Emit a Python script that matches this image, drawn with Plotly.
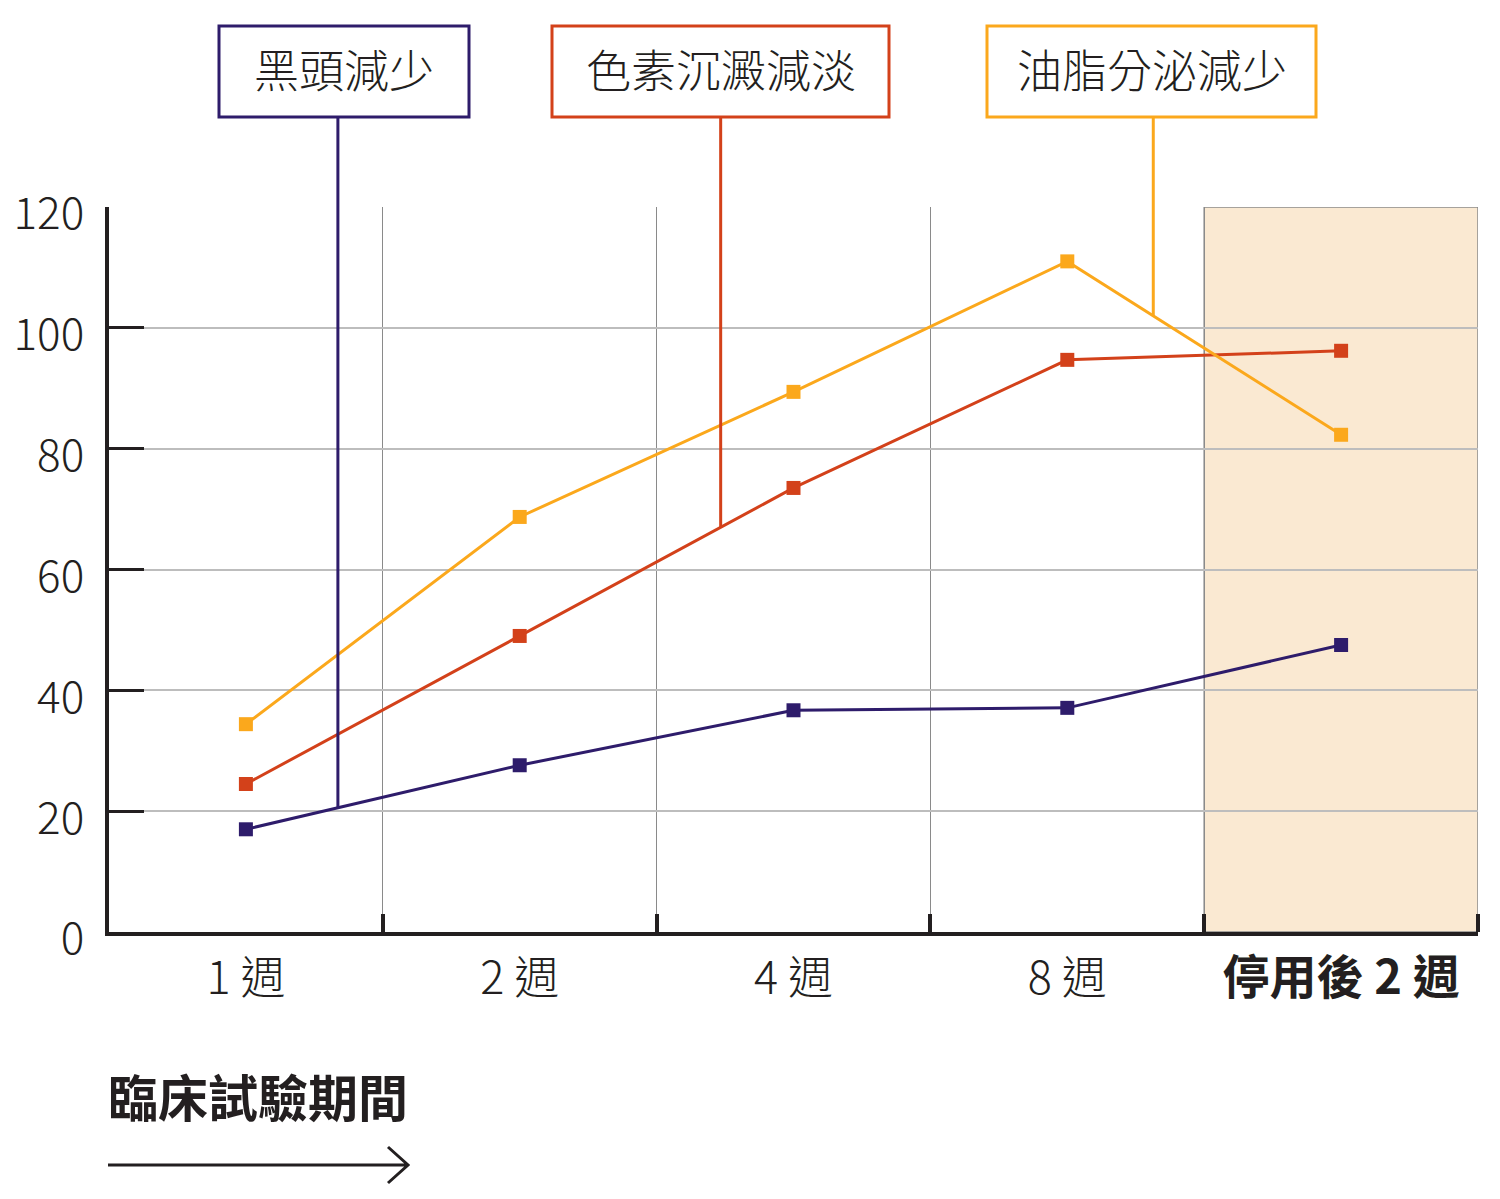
import plotly.graph_objects as go

categories = ["1 週", "2 週", "4 週", "8 週", "停用後 2 週"]
blackhead = [17.0, 27.6, 36.7, 37.1, 47.5]
pigment = [24.5, 49.0, 73.5, 94.7, 96.2]
oil = [34.4, 68.7, 89.4, 111.0, 82.3]
y_ticks = [0, 20, 40, 60, 80, 100, 120]
series_names = ["黑頭減少", "色素沉澱減淡", "油脂分泌減少"]

PURPLE = "#2E1C6B"
RED = "#D3411A"
ORANGE = "#FBA81C"
DARK = "#231F20"
FONT = "Noto Sans CJK TC"

W, H = 1500, 1199
L, R, T, B = 109, 22, 207, 267
PW, PH = W - L - R, H - T - B
YMAX = 120

def px_x(p):
    return (p - L) / PW

def px_y(p):
    return (H - B - p) / PH

xs = list(range(len(categories)))
fig = go.Figure()

for vals, name, col in [(blackhead, series_names[0], PURPLE),
                        (pigment, series_names[1], RED),
                        (oil, series_names[2], ORANGE)]:
    fig.add_trace(go.Scatter(x=xs, y=vals, name=name, mode="lines+markers",
                             line=dict(color=col, width=3),
                             marker=dict(symbol="square", size=14, color=col),
                             showlegend=False, cliponaxis=False))

shapes = []
shapes.append(dict(type="rect", xref="x", yref="y", x0=3.5, x1=4.5, y0=0, y1=YMAX,
                   fillcolor="#FAE9D2", line=dict(color="#8A8A8A", width=1.5), layer="below"))

boxes = [
    (219, 469, blackhead, 0.336, PURPLE),
    (552, 889, pigment, 1.734, RED),
    (987, 1316, oil, 3.314, ORANGE),
]
annotations = []
for (bl, br, vals, lx, col), name in zip(boxes, series_names):
    i = int(lx)
    f = lx - i
    yv = vals[i] + (vals[i + 1] - vals[i]) * f
    shapes.append(dict(type="rect", xref="paper", yref="paper",
                       x0=px_x(bl), x1=px_x(br), y0=px_y(117), y1=px_y(26),
                       line=dict(color=col, width=3), fillcolor="white"))
    shapes.append(dict(type="line", xref="paper", yref="paper",
                       x0=(lx + 0.5) / 5, x1=(lx + 0.5) / 5,
                       y0=px_y(117), y1=yv / YMAX,
                       line=dict(color=col, width=3)))
    annotations.append(dict(xref="paper", yref="paper", x=(px_x(bl) + px_x(br)) / 2,
                            y=px_y(68), text=name, showarrow=False,
                            font=dict(family=FONT, size=45, color=DARK, weight=300),
                            xanchor="center", yanchor="middle"))

annotations.append(dict(xref="paper", yref="paper", x=px_x(106), y=px_y(1095),
                        text="<b>臨床試驗期間</b>", showarrow=False, xanchor="left",
                        yanchor="middle", font=dict(family=FONT, size=50, color=DARK)))
shapes.append(dict(type="path", xref="paper", yref="paper",
                   path=f"M {px_x(108)},{px_y(1165)} L {px_x(407)},{px_y(1165)} "
                        f"M {px_x(388)},{px_y(1147)} L {px_x(408)},{px_y(1165)} L {px_x(388)},{px_y(1183)}",
                   line=dict(color=DARK, width=3)))

ticktext = [c if i < len(categories) - 1
            else f"<span style='font-size:47px'><b>{c}</b></span>"
            for i, c in enumerate(categories)]

fig.update_layout(
    width=W, height=H,
    margin=dict(l=L, r=R, t=T, b=B),
    plot_bgcolor="white", paper_bgcolor="white",
    shapes=shapes, annotations=annotations,
    xaxis=dict(range=[-0.5, 4.5], tickvals=xs, ticktext=ticktext, ticks="",
               showgrid=False, zeroline=False, showline=True, linecolor=DARK, linewidth=4,
               tickfont=dict(family=FONT, size=45, color=DARK, weight=300),
               ticklabelstandoff=4,
               minor=dict(tickvals=[0.5, 1.5, 2.5, 3.5, 4.5], ticks="inside", ticklen=18,
                          tickwidth=4, tickcolor=DARK, showgrid=True,
                          gridcolor="#8A8A8A", gridwidth=1)),
    yaxis=dict(range=[0, YMAX], tickvals=y_ticks, ticks="inside", ticklen=35, tickwidth=3,
               tickcolor=DARK, showline=True, linecolor=DARK, linewidth=4,
               showgrid=True, gridcolor="#BDBDBD", gridwidth=2, zeroline=False,
               tickfont=dict(family=FONT, size=44, color=DARK, weight=300),
               ticklabelstandoff=12, ticklabelshift=7),
)

fig.write_html("out.html")
